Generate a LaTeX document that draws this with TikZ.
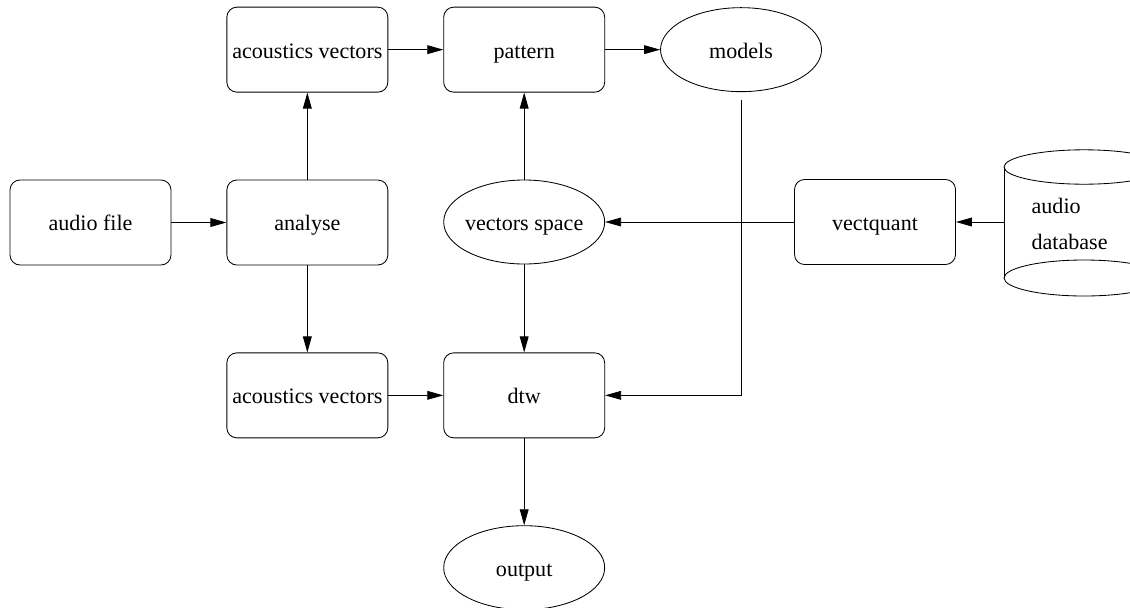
\documentclass[tikz,border=0pt]{standalone}
\usepackage{fontspec}
\setmainfont{Liberation Serif}
\usepackage{tikz}
\usetikzlibrary{shapes.geometric, arrows.meta, positioning}

\begin{document}
\begin{tikzpicture}[
  node distance=2.175cm and 1.375cm,
  box/.style={draw, rectangle, rounded corners=0.25cm, minimum width=4.025cm,
              minimum height=2.125cm, align=center, inner sep=0pt,
              text height=12pt, text depth=0pt,
              font=\fontsize{15.7}{19}\selectfont},
  oval/.style={draw, ellipse, minimum width=4.025cm, minimum height=2.1cm,
               inner xsep=-2pt, inner ysep=0pt, text height=12pt, text depth=0pt,
               font=\fontsize{15.7}{19}\selectfont},
  arr/.style={-{Triangle[length=0.4cm, width=0.22cm]}},
  line width=0.6pt
]
  \useasboundingbox (0,0) rectangle (28.25,-15.175);

  \node[box] (audio) at (2.2625,-5.5625) {audio file};
  \node[box, right=of audio] (analyse) {analyse};
  \node[box, above=of analyse] (acvtop) {acoustics vectors};
  \node[box, below=of analyse] (acvbot) {acoustics vectors};
  \node[box, right=of acvtop] (pattern) {pattern};
  \node[oval, right=of pattern] (models) {models};
  \node[oval, below=of pattern] (vspace) {vectors space};
  \node[box, right=of acvbot] (dtw) {dtw};
  \node[oval, below=of dtw] (output) {output};
  \node[box, right=4.725cm of vspace] (vq) {vectquant};

  % audio database (cut by the right border)
  \begin{scope}
    \clip (0,0) rectangle (28.25,-15.175);
    \draw (27.1,-4.175) ellipse [x radius=2cm, y radius=0.43cm];
    \draw (27.1,-6.95) ellipse [x radius=2cm, y radius=0.45cm];
    \draw (25.1,-4.175) -- (25.1,-6.95);
  \end{scope}
  \node[anchor=west, align=left, inner sep=0pt,
        font=\fontsize{15.7}{25}\selectfont] (db) at (25.78,-5.6) {audio\\database};
  \coordinate (dbside) at (25.1,0 |- vq.east);

  \draw[arr] (audio) -- (analyse);
  \draw[arr] (analyse) -- (acvtop);
  \draw[arr] (analyse) -- (acvbot);
  \draw[arr] (acvtop) -- (pattern);
  \draw[arr] (pattern) -- (models);
  \draw[arr] (vspace) -- (pattern);
  \draw[arr] (vspace) -- (dtw);
  \draw[arr] (acvbot) -- (dtw);
  \draw[arr] ([yshift=-0.2cm]models.south) |- (dtw.east);
  \draw[arr] (vq) -- (vspace);
  \draw[arr] (dbside) -- (vq);
  \draw[arr] (dtw) -- (output);
\end{tikzpicture}
\end{document}
